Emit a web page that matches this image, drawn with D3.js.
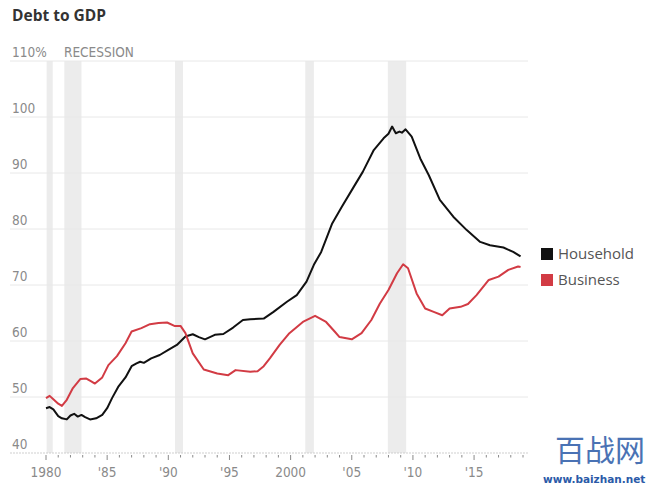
<!DOCTYPE html>
<html>
<head>
<meta charset="utf-8">
<script src="https://cdn.jsdelivr.net/npm/d3@7"></script>
<style>
  html, body { margin: 0; padding: 0; background: #fff; }
  svg { display: block; }
</style>
</head>
<body>
<svg id="chart" width="657" height="486"></svg>
<script>
// [year, % of GDP]
const household = [
  [1980.0, 48.0], [1980.3, 48.2], [1980.6, 47.8], [1981.0, 46.6], [1981.3, 46.2], [1981.7, 46.0],
  [1982.0, 46.7], [1982.3, 47.0], [1982.6, 46.5], [1982.9, 46.8], [1983.2, 46.4], [1983.6, 46.0],
  [1984.1, 46.2], [1984.6, 46.8], [1985.0, 48.0], [1985.4, 49.8], [1985.9, 51.8], [1986.5, 53.5],
  [1987.0, 55.5], [1987.4, 56.0], [1987.7, 56.3], [1988.0, 56.1], [1988.6, 56.9], [1989.3, 57.5],
  [1990.0, 58.4], [1990.7, 59.3], [1991.4, 60.8], [1992.0, 61.2], [1992.5, 60.7], [1993.0, 60.3],
  [1993.8, 61.1], [1994.5, 61.25], [1995.3, 62.4], [1996.1, 63.75], [1996.7, 63.9], [1997.8, 64.0],
  [1998.6, 65.2], [1999.7, 67.0], [2000.5, 68.2], [2001.3, 70.6], [2001.9, 73.6], [2002.5, 75.9],
  [2003.4, 81.0], [2004.2, 84.0], [2005.1, 87.3], [2005.9, 90.2], [2006.8, 94.1], [2007.6, 96.2],
  [2008.0, 97.0], [2008.3, 98.3], [2008.6, 97.1], [2008.9, 97.4], [2009.1, 97.2], [2009.4, 97.8],
  [2009.9, 96.5], [2010.6, 92.6], [2011.3, 89.6], [2012.2, 85.2], [2013.3, 82.2], [2014.4, 79.8],
  [2015.5, 77.7], [2016.3, 77.1], [2017.4, 76.7], [2018.2, 75.9], [2018.8, 75.1]
];

const business = [
  [1980.0, 49.8], [1980.3, 50.2], [1980.6, 49.6], [1981.0, 48.8], [1981.3, 48.4], [1981.7, 49.5],
  [1982.2, 51.6], [1982.8, 53.2], [1983.3, 53.3], [1983.7, 52.8], [1984.0, 52.4], [1984.6, 53.5],
  [1985.1, 55.7], [1985.8, 57.3], [1986.5, 59.6], [1987.0, 61.7], [1987.8, 62.3], [1988.5, 63.0],
  [1989.2, 63.2], [1989.9, 63.3], [1990.5, 62.7], [1991.0, 62.7], [1991.4, 61.4], [1992.0, 57.8],
  [1992.9, 54.9], [1994.0, 54.2], [1994.9, 53.9], [1995.5, 54.8], [1996.7, 54.5], [1997.3, 54.6],
  [1997.8, 55.5], [1998.3, 56.9], [1999.1, 59.3], [1999.9, 61.4], [2001.0, 63.4], [2002.0, 64.5],
  [2002.9, 63.4], [2003.6, 61.7], [2004.0, 60.7], [2005.0, 60.3], [2005.8, 61.4], [2006.6, 63.75],
  [2007.3, 66.7], [2008.0, 69.1], [2008.7, 72.1], [2009.2, 73.7], [2009.6, 73.0], [2010.3, 68.5],
  [2011.0, 65.8], [2011.7, 65.2], [2012.4, 64.6], [2013.0, 65.8], [2013.9, 66.1], [2014.5, 66.6],
  [2015.2, 68.2], [2016.2, 70.9], [2017.0, 71.5], [2017.8, 72.7], [2018.6, 73.3], [2018.8, 73.2]
];

// recession periods [start, end]
const recessions = [[1980.05, 1980.55], [1981.5, 1982.9], [1990.55, 1991.2], [2001.2, 2001.9], [2007.95, 2009.45]];

const yTicks = [40, 50, 60, 70, 80, 90, 100, 110];
const xMajor = [1980, 1985, 1990, 1995, 2000, 2005, 2010, 2015];
const xLabels = ["1980", "'85", "'90", "'95", "2000", "'05", "'10", "'15"];

const series = [
  { name: "Household", data: household, color: "#111111" },
  { name: "Business", data: business, color: "#d23b44" }
];

const svg = d3.select("#chart");
const narrow = "'Liberation Sans Narrow', 'DejaVu Sans Condensed', sans-serif";

const x = d3.scaleLinear().domain([1980, 2019]).range([46, 523]);
const y = d3.scaleLinear().domain([40, 110]).range([453, 61]);

// title
svg.append("text")
  .attr("x", 12).attr("y", 21)
  .attr("font-family", "'Open Sans', sans-serif")
  .attr("font-weight", 700)
  .attr("font-size", 15.5)
  .attr("fill", "#333")
  .text("Debt to GDP");

// recession bands
svg.append("g").selectAll("rect")
  .data(recessions)
  .enter().append("rect")
  .attr("x", d => x(d[0]))
  .attr("width", d => x(d[1]) - x(d[0]))
  .attr("y", y(110))
  .attr("height", y(40) - y(110))
  .attr("fill", "#ececec");

svg.append("text")
  .attr("x", 64).attr("y", 57)
  .attr("font-family", narrow)
  .attr("font-size", 13.5)
  .attr("fill", "#8a8a8a")
  .text("RECESSION");

// gridlines + y labels
const grid = svg.append("g");
grid.selectAll("line")
  .data(yTicks)
  .enter().append("line")
  .attr("x1", 10).attr("x2", 528)
  .attr("y1", d => y(d)).attr("y2", d => y(d))
  .attr("stroke", d => d === 40 ? "#cfcfcf" : "#e8e8e8")
  .attr("stroke-dasharray", d => d === 40 ? "2,1" : null)
  .attr("stroke-width", 1);

grid.selectAll("text")
  .data(yTicks)
  .enter().append("text")
  .attr("x", 12)
  .attr("y", d => y(d) - 4)
  .attr("font-family", narrow)
  .attr("font-size", 13.5)
  .attr("fill", "#8a8a8a")
  .text(d => d === 110 ? "110%" : d);

// x ticks
const years = d3.range(1980, 2020);
svg.append("g").selectAll("line")
  .data(years)
  .enter().append("line")
  .attr("x1", d => x(d)).attr("x2", d => x(d))
  .attr("y1", 455)
  .attr("y2", d => d % 5 === 0 ? 460 : 457.5)
  .attr("stroke", "#8a8a8a")
  .attr("stroke-width", 1);

svg.append("g").selectAll("text")
  .data(xMajor)
  .enter().append("text")
  .attr("x", d => x(d))
  .attr("y", 477)
  .attr("text-anchor", "middle")
  .attr("font-family", narrow)
  .attr("font-size", 13.5)
  .attr("fill", "#8a8a8a")
  .text((d, i) => xLabels[i]);

// lines
const line = d3.line()
  .x(d => x(d[0]))
  .y(d => y(d[1]));

svg.append("g").selectAll("path")
  .data(series)
  .enter().append("path")
  .attr("d", d => line(d.data))
  .attr("fill", "none")
  .attr("stroke", d => d.color)
  .attr("stroke-width", 2)
  .attr("stroke-linejoin", "round");

// legend
const legend = svg.append("g").selectAll("g")
  .data(series)
  .enter().append("g")
  .attr("transform", (d, i) => `translate(541,${248 + i * 26})`);

legend.append("rect")
  .attr("width", 12).attr("height", 12)
  .attr("fill", d => d.color);

legend.append("text")
  .attr("x", 17).attr("y", 11)
  .attr("font-family", "'Open Sans', sans-serif")
  .attr("font-size", 15)
  .attr("fill", "#555")
  .text(d => d.name);

// watermark
svg.append("text")
  .attr("x", 555).attr("y", 461)
  .attr("font-family", "'Noto Sans CJK SC', sans-serif")
  .attr("font-size", 30)
  .attr("fill", "#2b5aa8")
  .attr("opacity", 0.85)
  .text("百战网");

svg.append("text")
  .attr("x", 543).attr("y", 483)
  .attr("font-family", "'DejaVu Sans', sans-serif")
  .attr("font-weight", 700)
  .attr("font-size", 10.5)
  .attr("fill", "#2b5aa8")
  .text("www.baizhan.net");
</script>
</body>
</html>
